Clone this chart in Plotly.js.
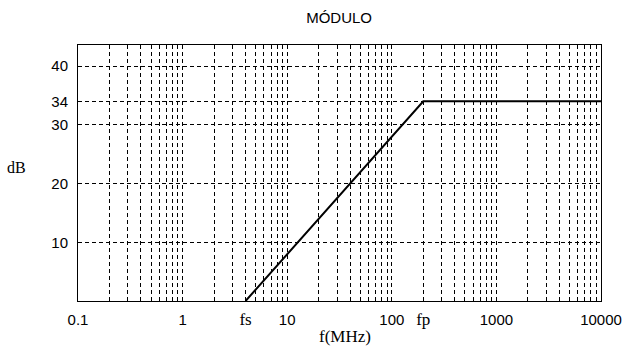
<!DOCTYPE html>
<html>
<head>
<meta charset="utf-8">
<script src="https://cdn.plot.ly/plotly-3.0.1.min.js"></script>
<style>html,body{margin:0;padding:0;background:#fff;}#chart{width:628px;height:347px;}</style>
</head>
<body>
<div id="chart"></div>
<script>
// Data
var fs = 4;      // MHz, start of slope
var fp = 200;    // MHz, corner
var fEnd = 10000;
var freq = [fs, fp, fEnd];
var gainDb = [0, 34, 34];

var xTickVals = [0.1, 1, fs, 10, 100, fp, 1000, 10000];
var xTickText = ['0.1', '1', 'fs', '10', '100', 'fp', '1000', '10000'];
var yTickVals = [10, 20, 30, 34, 40];
var yTickText = ['10', '20', '30', '34', '40'];

var serif = '"Liberation Serif", "Times New Roman", serif';
var sans = '"Liberation Sans", Arial, sans-serif';

// log grid positions (1..9 per decade)
var gridVals = [];
[0.1, 1, 10, 100, 1000].forEach(function (d) {
  for (var k = 1; k <= 9; k++) { if (!(d === 0.1 && k === 1)) gridVals.push(d * k); }
});

var xText = xTickText.map(function (t) {
  return (t === 'fs' || t === 'fp') ? '<span style="font-family:Liberation Serif;font-size:17px">' + t + '</span>' : t;
});

var trace = {
  x: freq, y: gainDb, type: 'scatter', mode: 'lines',
  line: {color: '#000', width: 2}, hoverinfo: 'none', showlegend: false
};

var layout = {
  width: 628, height: 347,
  margin: {l: 78, r: 27, t: 45, b: 46},
  paper_bgcolor: '#fff', plot_bgcolor: '#fff',
  font: {family: sans, size: 15, color: '#000'},
  title: {text: 'MÓDULO', font: {family: sans, size: 15, color: '#000'}, x: 0.54, xanchor: 'center', y: 0.95, yanchor: 'middle'},
  xaxis: {
    type: 'log', range: [-1, 4],
    tickmode: 'array', tickvals: xTickVals, ticktext: xText,
    ticks: '', showgrid: false, zeroline: false,
    showline: true, mirror: true, linecolor: '#000', linewidth: 1,
    ticklabelstandoff: 5,
    tickfont: {family: sans, size: 15, color: '#000'},
    minor: {tickmode: 'array', tickvals: gridVals, showgrid: true, gridcolor: '#000', gridwidth: 1, griddash: '4px,3px', ticks: ''}
  },
  yaxis: {
    range: [0, 43.6],
    tickmode: 'array', tickvals: yTickVals, ticktext: yTickText,
    ticks: '', showgrid: true, gridcolor: '#000', gridwidth: 1, griddash: '4px,3px',
    zeroline: false, showline: true, mirror: true, linecolor: '#000', linewidth: 1,
    ticklabelstandoff: 6,
    tickfont: {family: sans, size: 15, color: '#000'}
  },
  annotations: [
    {text: 'dB', xref: 'paper', yref: 'paper', x: -0.117, y: 0.52, xanchor: 'center', yanchor: 'middle', showarrow: false,
     font: {family: serif, size: 16, color: '#000'}},
    {text: 'f(MHz)', xref: 'paper', yref: 'paper', x: 0.51, y: -0.14, xanchor: 'center', yanchor: 'middle', showarrow: false,
     font: {family: serif, size: 17, color: '#000'}}
  ]
};

Plotly.newPlot('chart', [trace], layout, {staticPlot: true, displayModeBar: false});
</script>
</body>
</html>
